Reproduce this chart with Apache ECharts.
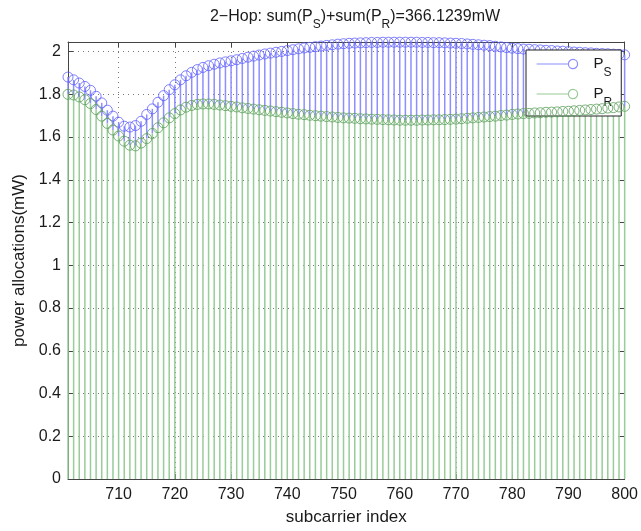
<!DOCTYPE html>
<html>
<head>
<meta charset="utf-8">
<script src="https://cdn.jsdelivr.net/npm/echarts@6/dist/echarts.min.js"></script>
<style>
html,body{margin:0;padding:0;background:#fff;}
#chart{width:641px;height:531px;}
</style>
</head>
<body>
<div id="chart"></div>
<script>
const subcarriers = [
701,702,703,704,705,706,707,708,709,710,
711,712,713,714,715,716,717,718,719,720,
721,722,723,724,725,726,727,728,729,730,
731,732,733,734,735,736,737,738,739,740,
741,742,743,744,745,746,747,748,749,750,
751,752,753,754,755,756,757,758,759,760,
761,762,763,764,765,766,767,768,769,770,
771,772,773,774,775,776,777,778,779,780,
781,782,783,784,785,786,787,788,789,790,
791,792,793,794,795,796,797,798,799,800];

const P_S = [
1.881,1.868,1.853,1.837,1.819,1.791,1.760,1.726,1.698,1.670,
1.651,1.647,1.654,1.674,1.706,1.732,1.763,1.794,1.822,1.845,
1.868,1.887,1.903,1.916,1.926,1.934,1.941,1.947,1.952,1.957,
1.962,1.968,1.974,1.979,1.984,1.989,1.993,1.997,2.001,2.005,
2.009,2.013,2.017,2.020,2.023,2.026,2.029,2.032,2.035,2.037,
2.039,2.040,2.041,2.042,2.043,2.043,2.044,2.044,2.044,2.044,
2.044,2.044,2.044,2.043,2.043,2.042,2.042,2.041,2.040,2.039,
2.038,2.036,2.034,2.032,2.030,2.028,2.025,2.022,2.019,2.016,
2.014,2.012,2.011,2.009,2.008,2.006,2.005,2.003,2.002,2.000,
1.998,1.997,1.995,1.994,1.992,1.991,1.990,1.988,1.987,1.985];

const P_R = [
1.800,1.797,1.788,1.775,1.757,1.729,1.698,1.664,1.633,1.605,
1.581,1.562,1.559,1.572,1.593,1.617,1.644,1.667,1.690,1.710,
1.727,1.740,1.748,1.753,1.755,1.755,1.753,1.750,1.747,1.744,
1.741,1.737,1.734,1.731,1.728,1.725,1.722,1.719,1.716,1.713,
1.710,1.707,1.705,1.702,1.700,1.698,1.696,1.694,1.692,1.690,
1.689,1.688,1.686,1.685,1.684,1.683,1.682,1.681,1.680,1.679,
1.679,1.679,1.679,1.680,1.680,1.681,1.681,1.682,1.683,1.684,
1.686,1.688,1.690,1.692,1.694,1.696,1.698,1.701,1.703,1.706,
1.708,1.710,1.711,1.713,1.714,1.716,1.717,1.718,1.720,1.721,
1.723,1.725,1.727,1.729,1.731,1.733,1.736,1.738,1.741,1.744];

const xTicks = [710,720,730,740,750,760,770,780,790,800];
const yTicks = [0,0.2,0.4,0.6,0.8,1,1.2,1.4,1.6,1.8,2];

const FONT = '"Liberation Sans", Arial, sans-serif';
const TXT = '#1a1a1a';
const blueStem = '#8e8eff', blueMark = '#6060ff';
const greenStem = '#98cc98', greenMark = '#5a9f5a';

// stem segments: [x, from, to]; green from 0 to P_R, visible blue part from P_R to P_S
const greenStems = subcarriers.map((x,i)=>[x, 0, P_R[i]]);
const blueStems = subcarriers.map((x,i)=>[x, P_R[i], P_S[i]]);
const psPairs = subcarriers.map((x,i)=>[x,P_S[i]]);
const prPairs = subcarriers.map((x,i)=>[x,P_R[i]]);

function stemRenderer(color){
  return function(params, api){
    const x = api.value(0);
    const a = api.coord([x, api.value(1)]);
    const b = api.coord([x, api.value(2)]);
    return {type:'line', shape:{x1:a[0], y1:a[1], x2:b[0], y2:b[1]},
            style:{stroke:color, lineWidth:1.5}};
  };
}

const chart = echarts.init(document.getElementById('chart'), null, {renderer:'canvas'});
const gridLine = {show:true, lineStyle:{color:'#777', type:[1,4], width:1}};
const axLine = {show:true, onZero:false, lineStyle:{color:'#444', width:1}};
const iconPath = 'path://M0,5L31,5M31,5A4.5,4.5,0,1,1,40,5A4.5,4.5,0,1,1,31,5Z';
const legendRich = {
  m:{fontFamily:FONT, fontSize:15, color:TXT, padding:[0,0,0,11], lineHeight:16, verticalAlign:'top'},
  s:{fontFamily:FONT, fontSize:12, color:TXT, padding:[11,0,0,0], lineHeight:12, verticalAlign:'top'}
};

chart.setOption({
  animation:false,
  backgroundColor:'#fff',
  title:{
    text:'{m|2\u2212Hop: sum(P}{s|S}{m|)+sum(P}{s|R}{m|)=366.1239mW}',
    left:350, top:4, textAlign:'center',
    textStyle:{fontFamily:FONT, fontSize:16, fontWeight:'normal', color:TXT,
      rich:{
        m:{fontFamily:FONT, fontSize:16, color:TXT, lineHeight:17, verticalAlign:'top'},
        s:{fontFamily:FONT, fontSize:12, color:TXT, lineHeight:12, padding:[10,0,0,0], verticalAlign:'top'}
      }}
  },
  grid:{left:68, right:13, top:42, bottom:49},
  legend:{
    orient:'vertical', left:526, top:50,
    backgroundColor:'#fff', borderColor:'#222', borderWidth:1,
    padding:[6,9,7,10], itemGap:7, itemWidth:41, itemHeight:10,
    data:[
      {name:'P_S', icon:iconPath, itemStyle:{color:'rgba(0,0,0,0)', borderColor:blueStem, borderWidth:1.2}},
      {name:'P_R', icon:iconPath, itemStyle:{color:'rgba(0,0,0,0)', borderColor:greenStem, borderWidth:1.2}}
    ],
    formatter:function(n){ return n==='P_S' ? '{m|P}{s|S}' : '{m|P}{s|R}'; },
    textStyle:{rich:legendRich}
  },
  xAxis:[{
    type:'value', min:701, max:800, position:'bottom',
    name:'subcarrier index', nameLocation:'middle', nameGap:30,
    nameTextStyle:{fontFamily:FONT, fontSize:17, color:TXT},
    axisLine:axLine,
    axisTick:{show:true, inside:true, length:5, customValues:xTicks, lineStyle:{color:'#444'}},
    axisLabel:{customValues:xTicks, fontFamily:FONT, fontSize:16, color:TXT, margin:8},
    splitLine:gridLine
  },{
    type:'value', min:701, max:800, position:'top',
    axisLine:axLine,
    axisTick:{show:true, inside:true, length:5, customValues:xTicks, lineStyle:{color:'#444'}},
    axisLabel:{show:false}, splitLine:{show:false}
  }],
  yAxis:[{
    type:'value', min:0, max:2.045, interval:0.2, position:'left',
    name:'power allocations(mW)', nameLocation:'middle', nameGap:35,
    nameTextStyle:{fontFamily:FONT, fontSize:17, color:TXT},
    axisLine:axLine,
    axisTick:{show:true, inside:true, length:5, customValues:yTicks, lineStyle:{color:'#444'}},
    axisLabel:{customValues:yTicks, fontFamily:FONT, fontSize:16, color:TXT, margin:7},
    splitLine:gridLine
  },{
    type:'value', min:0, max:2.045, interval:0.2, position:'right',
    axisLine:axLine,
    axisTick:{show:true, inside:true, length:5, customValues:yTicks, lineStyle:{color:'#444'}},
    axisLabel:{show:false}, splitLine:{show:false}
  }],
  series:[
    {name:'P_S', type:'custom', data:blueStems, encode:{x:0, y:[1,2]},
     renderItem:stemRenderer(blueStem), z:2, silent:true},
    {name:'P_R', type:'custom', data:greenStems, encode:{x:0, y:[1,2]},
     renderItem:stemRenderer(greenStem), z:2, silent:true},
    {name:'P_S', type:'scatter', data:psPairs, symbol:'circle', symbolSize:10,
     itemStyle:{color:'rgba(0,0,0,0)', borderColor:blueMark, borderWidth:1}, z:3, clip:false},
    {name:'P_R', type:'scatter', data:prPairs, symbol:'circle', symbolSize:10,
     itemStyle:{color:'rgba(0,0,0,0)', borderColor:greenMark, borderWidth:1}, z:5, clip:false}
  ]
});
</script>
</body>
</html>
